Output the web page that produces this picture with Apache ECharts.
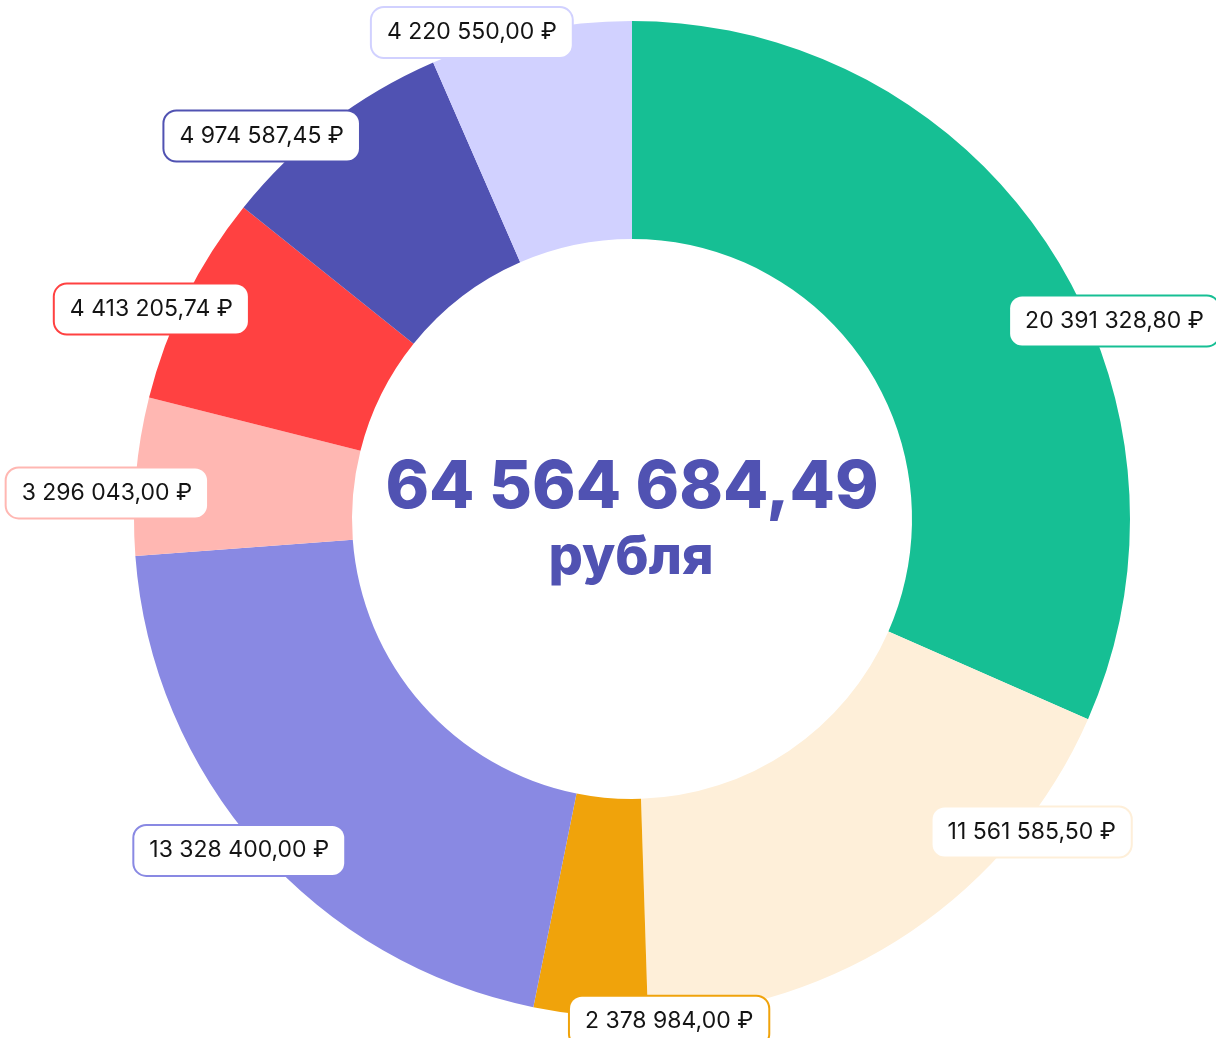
<!DOCTYPE html>
<html>
<head>
<meta charset="utf-8">
<script src="https://cdn.jsdelivr.net/npm/echarts@6/dist/echarts.min.js"></script>
<style>
  html, body { margin: 0; padding: 0; background: #fff; }
  #chart { width: 1216px; height: 1038px; }
</style>
</head>
<body>
<div id="chart"></div>
<script>
// values, clockwise from 12 o'clock
const amounts = [20391328.80, 11561585.50, 2378984.00, 13328400.00, 3296043.00, 4413205.74, 4974587.45, 4220550.00];
const sliceColors = ['#16BF94', '#FEEFD9', '#F0A30B', '#8989E3', '#FFB7B2', '#FF4141', '#5052B2', '#D1D1FF'];
const totalText = '64 564 684,49';
const totalUnit = 'рубля';

// how far each label box sits from the arc midpoint on the outer edge
const labelNudge = [[63, 76], [119, -102], [79, 3], [-17, 0], [-26, 17], [-32, 13], [-66, 15], [-58, 4]];

function rub(v) {
  const parts = v.toFixed(2).split('.');
  const whole = parts[0].replace(/\B(?=(\d{3})+(?!\d))/g, ' ');
  return whole + ',' + parts[1] + ' ₽';
}

const chart = echarts.init(document.getElementById('chart'));

const sliceData = amounts.map((v, i) => ({ value: v, itemStyle: { color: sliceColors[i] } }));
const labelData = amounts.map((v, i) => ({
  value: v,
  label: { borderColor: sliceColors[i] }
}));

const option = {
  animation: false,
  series: [
    {
      type: 'pie',
      center: [632, 519],
      radius: [280, 498],
      startAngle: 90,
      clockwise: true,
      silent: true,
      label: { show: false },
      labelLine: { show: false },
      data: sliceData
    },
    {
      // invisible ring on the outer edge, only used to carry the labels
      type: 'pie',
      center: [632, 519],
      radius: [496, 500],
      startAngle: 90,
      clockwise: true,
      silent: true,
      itemStyle: { color: 'rgba(0,0,0,0)' },
      label: {
        show: true,
        position: 'inside',
        formatter: (p) => rub(p.value),
        fontFamily: 'Inter',
        fontSize: 23,
        color: '#141414',
        backgroundColor: '#fff',
        borderWidth: 2,
        borderRadius: 12,
        padding: [13, 15, 13, 15]
      },
      labelLine: { show: false },
      labelLayout: (params) => ({
        dx: labelNudge[params.dataIndex][0],
        dy: labelNudge[params.dataIndex][1],
        hideOverlap: false
      }),
      data: labelData
    }
  ],
  graphic: [
    {
      type: 'text',
      x: 632,
      y: 488,
      style: {
        text: totalText,
        textAlign: 'center',
        textVerticalAlign: 'middle',
        fill: '#5052B2',
        fontFamily: 'Inter',
        fontWeight: 800,
        fontSize: 66
      }
    },
    {
      type: 'text',
      x: 631,
      y: 558,
      style: {
        text: totalUnit,
        textAlign: 'center',
        textVerticalAlign: 'middle',
        fill: '#5052B2',
        fontFamily: 'Inter',
        fontWeight: 800,
        fontSize: 54
      }
    }
  ]
};

chart.setOption(option);
</script>
</body>
</html>
